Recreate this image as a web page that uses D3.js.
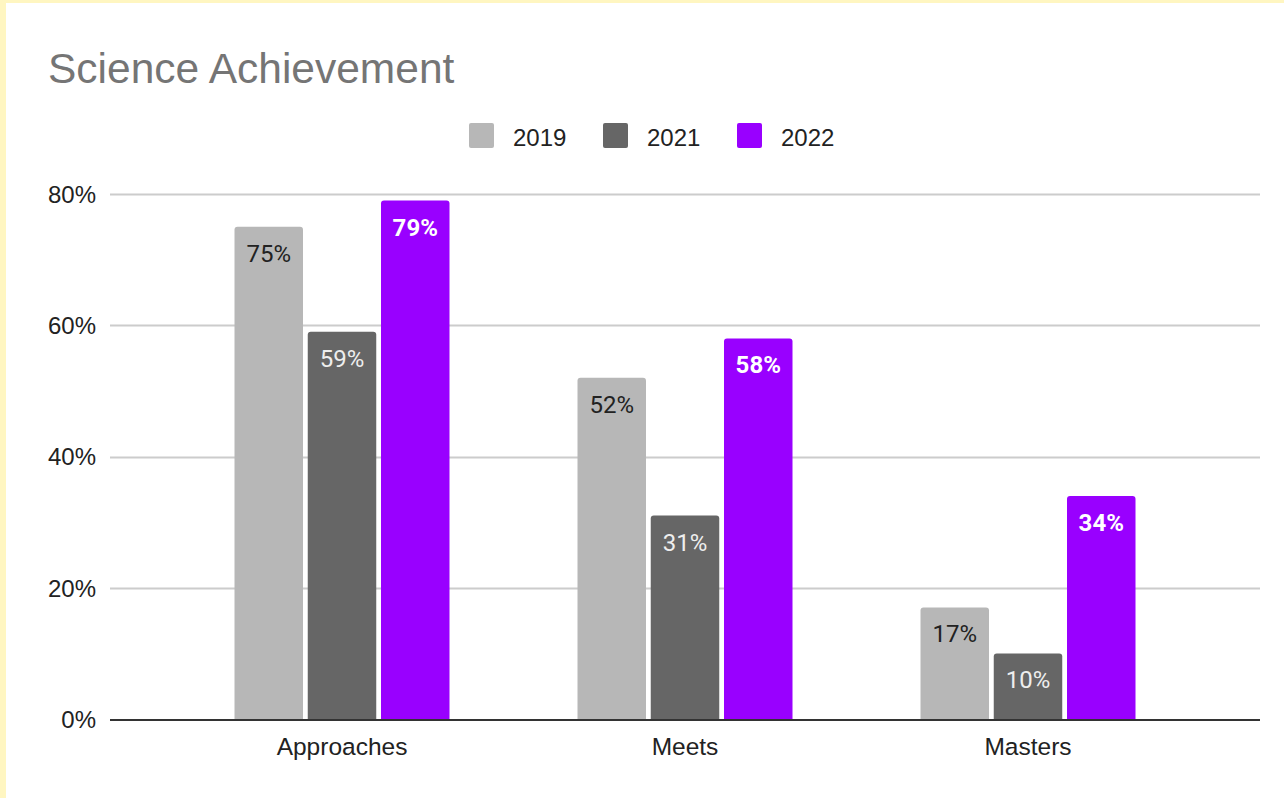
<!DOCTYPE html>
<html>
<head>
<meta charset="utf-8">
<script src="https://cdn.jsdelivr.net/npm/d3@7"></script>
<style>
  html, body { margin: 0; padding: 0; background: #ffffff; }
  svg { display: block; }
</style>
</head>
<body>
<svg id="chart" width="1284" height="798"></svg>
<script>
// Chart data
const categories = ["Approaches", "Meets", "Masters"];
const years = ["2019", "2021", "2022"];
const values2019 = [0.75, 0.52, 0.17];
const values2021 = [0.59, 0.31, 0.10];
const values2022 = [0.79, 0.58, 0.34];
const yTicks = [0, 0.2, 0.4, 0.6, 0.8];
const title = "Science Achievement";

const seriesValues = [values2019, values2021, values2022];
const colors = ["#b7b7b7", "#666666", "#9900ff"];
const labelColors = ["#222222", "#eeeeee", "#ffffff"];
const labelWeights = ["normal", "normal", "bold"];

const svg = d3.select("#chart");

// page frame
svg.append("rect").attr("x", 0).attr("y", 0).attr("width", 1284).attr("height", 798).attr("fill", "#fff6c1");
svg.append("rect").attr("x", 6).attr("y", 3).attr("width", 1278).attr("height", 795).attr("fill", "#ffffff");

const plotLeft = 110, plotRight = 1260;
const y = d3.scaleLinear().domain([0, 0.8]).range([719, 194]);
const x = d3.scaleBand().domain(categories).range([170.5, 1199.5]).padding(0);
const groupWidth = 215;
const xInner = d3.scaleBand().domain(years).range([-groupWidth / 2, groupWidth / 2]).paddingInner(0.065);

// title
svg.append("text")
  .attr("x", 48).attr("y", 83)
  .attr("font-family", "'Liberation Sans', Arial, sans-serif")
  .attr("font-size", 42.5)
  .attr("fill", "#757575")
  .text(title);

// legend
const legend = svg.append("g");
const legendX0 = 469, legendStep = 134;
years.forEach((yr, i) => {
  const g = legend.append("g").attr("transform", `translate(${legendX0 + i * legendStep},0)`);
  g.append("rect").attr("x", 0).attr("y", 123).attr("width", 25).attr("height", 25)
    .attr("rx", 2).attr("fill", colors[i]);
  g.append("text").attr("x", 44).attr("y", 146)
    .attr("font-family", "'Liberation Sans', Arial, sans-serif")
    .attr("font-size", 24).attr("fill", "#222222").text(yr);
});

// gridlines + y labels
const yAxis = d3.axisLeft(y).tickValues(yTicks).tickFormat(d3.format(".0%")).tickSize(0).tickPadding(0);
const yg = svg.append("g").attr("transform", `translate(96,0)`).call(yAxis);
yg.select(".domain").remove();
yg.selectAll("text")
  .attr("font-family", "'Liberation Sans', Arial, sans-serif")
  .attr("font-size", 24).attr("fill", "#222222")
  .attr("dy", "0.35em");

svg.append("g").selectAll("line")
  .data(yTicks.filter(d => d > 0))
  .join("line")
  .attr("x1", plotLeft).attr("x2", plotRight)
  .attr("y1", d => Math.round(y(d)) + 0.5).attr("y2", d => Math.round(y(d)) + 0.5)
  .attr("stroke", "#cccccc").attr("stroke-width", 2);

// bars with rounded top corners
function barPath(x0, w, top, bottom, r) {
  r = Math.min(r, (bottom - top) / 2);
  return `M${x0},${bottom}V${top + r}Q${x0},${top} ${x0 + r},${top}H${x0 + w - r}Q${x0 + w},${top} ${x0 + w},${top + r}V${bottom}Z`;
}

const barData = [];
categories.forEach((c, ci) => {
  years.forEach((yr, si) => {
    barData.push({ cat: c, year: yr, si, value: seriesValues[si][ci] });
  });
});

const bars = svg.append("g");
bars.selectAll("path")
  .data(barData)
  .join("path")
  .attr("d", d => {
    const cx = x(d.cat) + x.bandwidth() / 2;
    const x0 = cx + xInner(d.year);
    return barPath(x0, xInner.bandwidth(), y(d.value), y(0), 3);
  })
  .attr("fill", d => colors[d.si]);

bars.selectAll("text")
  .data(barData)
  .join("text")
  .attr("x", d => x(d.cat) + x.bandwidth() / 2 + xInner(d.year) + xInner.bandwidth() / 2)
  .attr("y", d => y(d.value) + 35)
  .attr("text-anchor", "middle")
  .attr("font-family", "Roboto, sans-serif")
  .attr("font-size", 24)
  .attr("font-weight", d => labelWeights[d.si])
  .attr("fill", d => labelColors[d.si])
  .text(d => d3.format(".0%")(d.value));

// baseline axis
svg.append("line")
  .attr("x1", plotLeft).attr("x2", plotRight)
  .attr("y1", y(0) + 1).attr("y2", y(0) + 1)
  .attr("stroke", "#333333").attr("stroke-width", 2);

// category labels
const xAxis = d3.axisBottom(x).tickSize(0).tickPadding(0);
const xg = svg.append("g").attr("transform", `translate(0,755)`).call(xAxis);
xg.select(".domain").remove();
xg.selectAll("text")
  .attr("dy", 0)
  .attr("font-family", "'Liberation Sans', Arial, sans-serif")
  .attr("font-size", 24.5).attr("fill", "#222222");
</script>
</body>
</html>
